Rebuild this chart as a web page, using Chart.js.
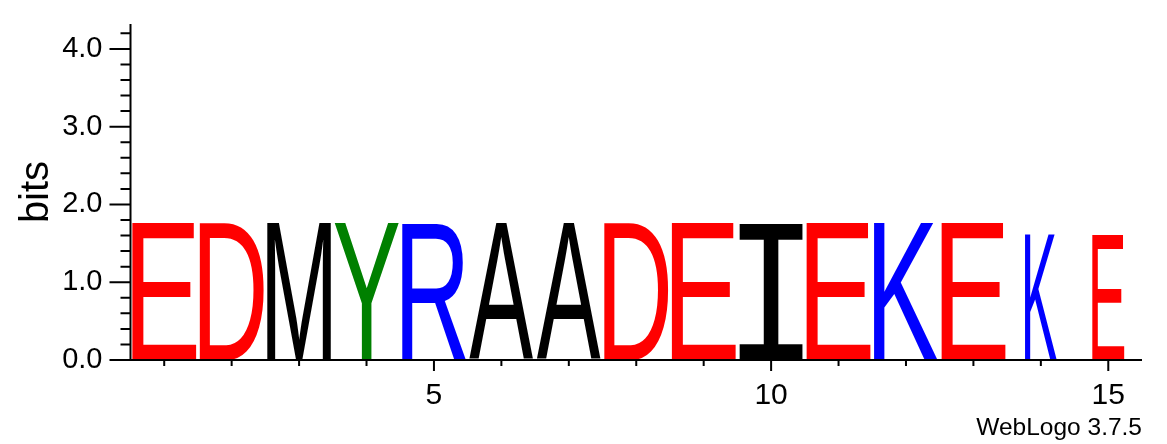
<!DOCTYPE html>
<html>
<head>
<meta charset="utf-8">
<script src="https://cdn.jsdelivr.net/npm/chart.js@4.4.1/dist/chart.umd.min.js"></script>
<style>
html,body{margin:0;padding:0;background:#fff}
#wrap{width:1167px;height:444px;position:relative}
</style>
</head>
<body>
<div id="wrap"><canvas id="logo"></canvas></div>
<script>
// sequence logo columns
const positions = [1,2,3,4,5,6,7,8,9,10,11,12,13,14,15];
const residues  = ['E','D','M','Y','R','A','A','D','E','I','E','K','E','K','E'];
const bits      = [1.76,1.76,1.76,1.76,1.76,1.76,1.76,1.76,1.76,1.76,1.76,1.76,1.76,1.62,1.62];
const weights   = [1,1,1,1,1,1,1,1,1,1,1,1,1,0.5,0.5];   // column occupancy
const yMax = 4.32;          // log2(20)
const yMajor = [0,1,2,3,4];
const yMinorStep = 0.2;
const credit = 'WebLogo 3.7.5';

const palette = {E:'#ff0000',D:'#ff0000',K:'#0000ff',R:'#0000ff',Y:'#008000',M:'#000000',A:'#000000',I:'#000000'};
const glyphFont = ch => ch==='I' ? '200px "Liberation Mono"' : '200px "Liberation Sans"';

// stretch each residue glyph into its bar box
const glyphs = {
  id:'glyphs',
  afterDatasetsDraw(chart){
    const ctx = chart.ctx;
    chart.getDatasetMeta(0).data.forEach((bar,i)=>{
      const ch = residues[i];
      const w = bar.width*weights[i];
      const h = bar.base - bar.y;
      if(h<=0 || w<=0) return;
      ctx.save();
      ctx.font = glyphFont(ch);
      ctx.textAlign = 'left'; ctx.textBaseline = 'alphabetic';
      const m = ctx.measureText(ch);
      const gw = m.actualBoundingBoxLeft + m.actualBoundingBoxRight;
      const gh = m.actualBoundingBoxAscent + m.actualBoundingBoxDescent;
      ctx.translate(bar.x - w/2, bar.y);
      ctx.scale(w/gw, h/gh);
      ctx.fillStyle = palette[ch];
      ctx.fillText(ch, m.actualBoundingBoxLeft, m.actualBoundingBoxAscent);
      ctx.restore();
    });
  }
};

// axis lines, major/minor ticks and the credit line
const axes = {
  id:'axes',
  afterDraw(chart){
    const {ctx, chartArea:a, scales:{x,y}} = chart;
    ctx.save();
    ctx.strokeStyle = '#000'; ctx.lineWidth = 2;
    ctx.beginPath();
    ctx.moveTo(a.left, a.top); ctx.lineTo(a.left, a.bottom+1);
    ctx.moveTo(a.left-1, a.bottom); ctx.lineTo(a.right, a.bottom);
    const n = Math.floor(yMax/yMinorStep + 1e-9);
    for(let i=0;i<=n;i++){
      const v = i*yMinorStep;
      const py = y.getPixelForValue(v);
      const len = i%5===0 ? 21 : 10;
      ctx.moveTo(a.left-len, py); ctx.lineTo(a.left, py);
    }
    positions.forEach((p,i)=>{
      const px = x.getPixelForValue(i);
      const len = p%5===0 ? 11 : 6;
      ctx.moveTo(px, a.bottom); ctx.lineTo(px, a.bottom+len);
    });
    ctx.stroke();
    ctx.font = '24.5px "Liberation Sans"';
    ctx.textAlign = 'right'; ctx.textBaseline = 'alphabetic';
    ctx.fillStyle = '#000';
    ctx.fillText(credit, a.right, 435);
    ctx.restore();
  }
};

new Chart(document.getElementById('logo'), {
  type:'bar',
  data:{
    labels: positions,
    datasets:[{data: bits, backgroundColor:'rgba(0,0,0,0)', borderWidth:0, barPercentage:0.95, categoryPercentage:1}]
  },
  options:{
    responsive:true, maintainAspectRatio:false, animation:false, events:[],
    layout:{padding:{top:24, right:25, bottom:0, left:0}},
    plugins:{legend:{display:false}, tooltip:{enabled:false}},
    scales:{
      x:{
        grid:{display:false}, border:{display:false},
        ticks:{autoSkip:false, maxRotation:0, padding:10, color:'#000',
          font:{family:'Liberation Sans', size:30},
          callback(v){ const p = this.getLabelForValue(v); return p%5===0 ? String(p) : ''; }},
        afterFit(s){ s.height = 84; s.paddingLeft = 0; s.paddingRight = 0; }
      },
      y:{
        min:0, max:yMax,
        grid:{display:false}, border:{display:false},
        afterBuildTicks(s){ s.ticks = yMajor.map(v=>({value:v})); },
        ticks:{padding:20, color:'#000', font:{family:'Liberation Sans', size:29},
          callback:v=>v.toFixed(1)},
        title:{display:true, text:'bits', color:'#000', padding:{top:13,bottom:0},
          font:{family:'Liberation Sans', size:40}},
        afterFit(s){ s.width = 130.5; s.paddingTop = 0; s.paddingBottom = 0; }
      }
    }
  },
  plugins:[glyphs, axes]
});
</script>
</body>
</html>
